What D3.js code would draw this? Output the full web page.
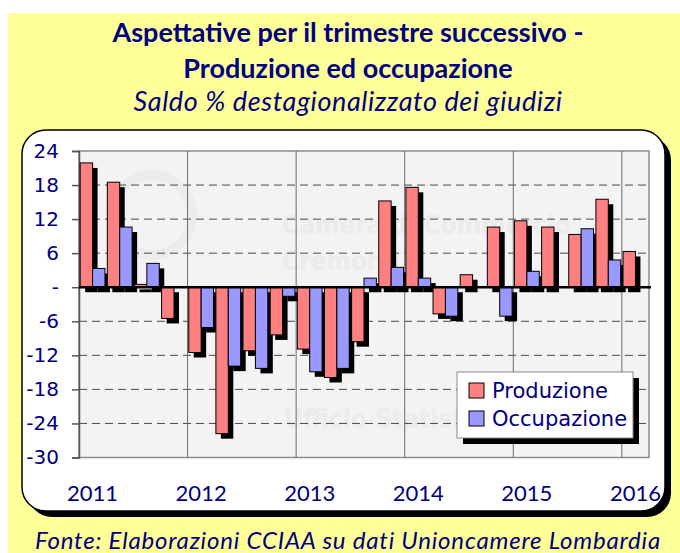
<!DOCTYPE html>
<html>
<head>
<meta charset="utf-8">
<script src="https://cdn.jsdelivr.net/npm/d3@7"></script>
<style>
  body { margin: 0; background: #fff; }
  svg { display: block; }
</style>
</head>
<body>
<div id="chart"></div>
<script>
// quarters 2011 T1 .. 2016 T1
const quarters = [
    '2011-1', '2011-2', '2011-3', '2011-4',
    '2012-1', '2012-2', '2012-3', '2012-4',
    '2013-1', '2013-2', '2013-3', '2013-4',
    '2014-1', '2014-2', '2014-3', '2014-4',
    '2015-1', '2015-2', '2015-3', '2015-4',
    '2016-1'
]
const produzione = [21.9, 18.5, 0.5, -5.5, -11.5, -25.8, -11.2, -8.4, -10.9, -15.9, -9.6, 15.2,
    17.6, -4.7, 2.2, 10.6, 11.7, 10.6, 9.3, 15.5, 6.3]
const occupazione = [3.3, 10.6, 4.2, 0, -7.1, -13.9, -14.3, -1.6, -14.9, -14.3, 1.6, 3.5,
    1.6, -5.1, 0, -5.1, 2.8, 0, 10.3, 4.8, null]
const seriesNames = ['Produzione', 'Occupazione']
const yTicks = [24, 18, 12, 6, 0, -6, -12, -18, -24, -30]
const yearLabels = ['2011', '2012', '2013', '2014', '2015', '2016']

const colors = { Produzione: '#ff8080', Occupazione: '#9999ff' }
const navy = '#000080'

document.addEventListener('DOMContentLoaded', function() {

    const W = 680, H = 553
    const svg = d3.select('#chart').append('svg')
        .attr('width', W)
        .attr('height', H)

    // yellow background
    svg.append('rect')
        .attr('x', 8).attr('y', 13)
        .attr('width', W - 8).attr('height', H - 13)
        .attr('fill', '#ffff99')

    const cx = 348
    svg.append('text')
        .attr('x', cx).attr('y', 42)
        .attr('text-anchor', 'middle')
        .style('font', 'bold 27px Lato, sans-serif')
        .attr('fill', navy)
        .text('Aspettative per il trimestre successivo -')
    svg.append('text')
        .attr('x', cx).attr('y', 78)
        .attr('text-anchor', 'middle')
        .style('font', 'bold 27px Lato, sans-serif')
        .attr('fill', navy)
        .text('Produzione ed occupazione')
    svg.append('text')
        .attr('x', cx).attr('y', 111)
        .attr('text-anchor', 'middle')
        .style('font', 'italic 27px Lato, sans-serif')
        .style('letter-spacing', '0.6px')
        .attr('fill', navy)
        .text('Saldo % destagionalizzato dei giudizi')
    svg.append('text')
        .attr('x', cx).attr('y', 549)
        .attr('text-anchor', 'middle')
        .style('font', 'italic 24px Lato, sans-serif')
        .style('letter-spacing', '0.8px')
        .attr('fill', navy)
        .text('Fonte: Elaborazioni CCIAA su dati Unioncamere Lombardia')

    // white rounded panel with shadow
    const panel = { x: 22, y: 130, w: 643, h: 381 }
    svg.append('rect')
        .attr('x', panel.x + 6).attr('y', panel.y + 6)
        .attr('width', panel.w).attr('height', panel.h)
        .attr('rx', 24)
        .attr('fill', '#000')
    svg.append('rect')
        .attr('x', panel.x).attr('y', panel.y)
        .attr('width', panel.w).attr('height', panel.h)
        .attr('rx', 24)
        .attr('fill', '#fff')
        .attr('stroke', '#000')
        .attr('stroke-width', 1.5)

    const plot = { left: 79, right: 649, top: 151, bottom: 457.5 }

    const x = d3.scaleBand()
        .domain(quarters)
        .range([plot.left, plot.right])
        .paddingInner(0)
        .paddingOuter(0)

    const y = d3.scaleLinear()
        .domain([-30, 24])
        .range([plot.bottom, plot.top])

    svg.append('rect')
        .attr('x', plot.left).attr('y', plot.top)
        .attr('width', plot.right - plot.left).attr('height', plot.bottom - plot.top)
        .attr('fill', '#f3f3f3')
        .attr('stroke', '#8c8c8c')
        .attr('stroke-width', 1.5)

    // faint watermark (logo of the Ufficio Statistica)
    const wmFont = 'bold 26px "Liberation Sans Narrow", "DejaVu Sans Condensed", sans-serif'
    const wm = svg.append('g').attr('fill', '#ebebeb')
    wm.append('circle')
        .attr('cx', 152).attr('cy', 215).attr('r', 40)
        .attr('fill', 'none').attr('stroke', '#ececec').attr('stroke-width', 10)
    wm.append('text').attr('x', 282).attr('y', 234)
        .style('font', wmFont)
        .text('Camera di Commercio')
    wm.append('text').attr('x', 282).attr('y', 270)
        .style('font', wmFont)
        .text('Cremona')
    wm.append('text').attr('x', 284).attr('y', 428)
        .style('font', wmFont)
        .text('Ufficio Statistica')

    // horizontal dashed gridlines
    svg.append('g')
        .selectAll('line')
        .data(yTicks.filter(d => d !== 0 && d !== 24 && d !== -30))
        .enter().append('line')
            .attr('x1', plot.left).attr('x2', plot.right)
            .attr('y1', d => y(d)).attr('y2', d => y(d))
            .attr('stroke', '#4a4a4a')
            .attr('stroke-width', 1)
            .attr('stroke-dasharray', '8,5')

    // vertical year gridlines
    const yearStarts = quarters.filter(q => q.endsWith('-1')).slice(1)
    svg.append('g')
        .selectAll('line')
        .data(yearStarts)
        .enter().append('line')
            .attr('x1', d => x(d)).attr('x2', d => x(d))
            .attr('y1', plot.top).attr('y2', plot.bottom)
            .attr('stroke', '#6a6a6a')
            .attr('stroke-width', 1)

    // y axis
    const yAxis = d3.axisLeft(y)
        .tickValues(yTicks)
        .tickSize(7)
        .tickFormat(d => d === 0 ? '-' : d)
    const yAxisG = svg.append('g')
        .attr('transform', `translate(${plot.left},0)`)
        .call(yAxis)
    yAxisG.select('path.domain').attr('stroke', '#555').attr('stroke-width', 1.5)
    yAxisG.selectAll('.tick line').attr('stroke', '#555').attr('stroke-width', 1.5)
    yAxisG.selectAll('.tick text')
        .attr('x', -20)
        .style('font', '20px "DejaVu Sans", sans-serif')
        .attr('fill', navy)

    // bars
    const x1 = d3.scaleBand()
        .domain(seriesNames)
        .range([0, x.bandwidth()])
        .paddingOuter(0.095)
        .paddingInner(0)

    const barData = []
    quarters.forEach((q, i) => {
        barData.push({ q: q, key: 'Produzione', v: produzione[i] })
        barData.push({ q: q, key: 'Occupazione', v: occupazione[i] })
    })
    const bars = barData.filter(d => d.v !== null && d.v !== 0)
    const shadowOff = 5

    svg.append('g')
        .selectAll('rect')
        .data(bars)
        .enter().append('rect')
            .attr('x', d => x(d.q) + x1(d.key) + shadowOff)
            .attr('y', d => Math.min(y(d.v), y(0)) + shadowOff)
            .attr('width', x1.bandwidth())
            .attr('height', d => Math.abs(y(d.v) - y(0)))
            .attr('fill', '#000')

    svg.append('g')
        .selectAll('rect')
        .data(bars)
        .enter().append('rect')
            .attr('x', d => x(d.q) + x1(d.key))
            .attr('y', d => Math.min(y(d.v), y(0)))
            .attr('width', x1.bandwidth())
            .attr('height', d => Math.abs(y(d.v) - y(0)))
            .attr('fill', d => colors[d.key])
            .attr('stroke', '#000')
            .attr('stroke-width', 1)

    // zero line
    svg.append('line')
        .attr('x1', plot.left).attr('x2', plot.right + 2)
        .attr('y1', y(0)).attr('y2', y(0))
        .attr('stroke', '#000')
        .attr('stroke-width', 2.5)

    // year labels under the first quarter of each year
    svg.append('g')
        .selectAll('text')
        .data(yearLabels)
        .enter().append('text')
            .attr('x', d => x(d + '-1') + x.bandwidth() / 2)
            .attr('y', 501)
            .attr('text-anchor', 'middle')
            .style('font', '22px Lato, sans-serif')
            .attr('fill', navy)
            .text(d => d)

    // legend
    const lg = { x: 457, y: 372, w: 176, h: 66 }
    svg.append('rect')
        .attr('x', lg.x + 6).attr('y', lg.y + 6)
        .attr('width', lg.w).attr('height', lg.h)
        .attr('fill', '#000')
    svg.append('rect')
        .attr('x', lg.x).attr('y', lg.y)
        .attr('width', lg.w).attr('height', lg.h)
        .attr('fill', '#fff')
        .attr('stroke', '#888')
        .attr('stroke-width', 1)

    const items = svg.append('g')
        .selectAll('g')
        .data(seriesNames)
        .enter().append('g')
            .attr('transform', (d, i) => `translate(${lg.x + 12},${lg.y + 11 + i * 28})`)
    items.append('rect')
        .attr('width', 15).attr('height', 15)
        .attr('fill', d => colors[d])
        .attr('stroke', '#000')
        .attr('stroke-width', 1)
    items.append('text')
        .attr('x', 23).attr('y', 15)
        .style('font', '21px "DejaVu Sans", sans-serif')
        .attr('fill', navy)
        .text(d => d)
});
</script>
</body>
</html>
